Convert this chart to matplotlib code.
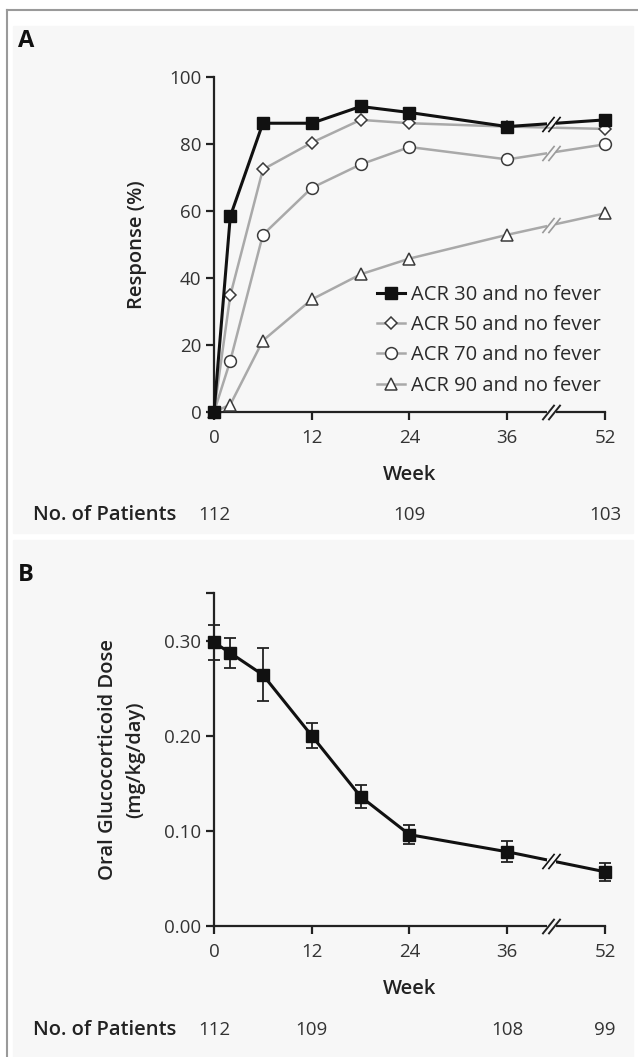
import numpy as np
import matplotlib.pyplot as plt
from matplotlib.patches import Rectangle
from matplotlib.lines import Line2D
from matplotlib.transforms import blended_transform_factory

plt.rcParams['font.family'] = ['Open Sans', 'DejaVu Sans']

########
weeks = np.array([0, 2, 6, 12, 18, 24, 36, 52])

acr30 = [0, 58.4, 86.2, 86.2, 91.2, 89.4, 85.2, 87.2]
acr50 = [0, 34.8, 72.4, 80.4, 87.2, 86.2, 85.2, 84.5]
acr70 = [0, 15.3, 52.9, 66.9, 73.9, 79.1, 75.4, 79.9]
acr90 = [0, 2.2, 21.3, 33.6, 41.1, 45.8, 52.9, 59.3]
acr_labels = ["ACR 30 and no fever", "ACR 50 and no fever",
              "ACR 70 and no fever", "ACR 90 and no fever"]

dose = [0.298, 0.287, 0.264, 0.200, 0.136, 0.096, 0.078, 0.057]
dose_err = [0.018, 0.016, 0.028, 0.013, 0.012, 0.010, 0.011, 0.0095]

tick_weeks = [0, 12, 24, 36, 52]
patients_a_weeks = [0, 24, 52]
patients_a = ["112", "109", "103"]
patients_b_weeks = [0, 12, 36, 52]
patients_b = ["112", "109", "108", "99"]

########

def pos(w):
    # axis is broken between 36 and 52: last 16 weeks drawn as 12
    w = np.asarray(w, dtype=float)
    return np.where(w <= 36, w, 36 + (w - 36) * 12 / 16)

x = pos(weeks)
x_break = 41.4
bg = "#f7f7f7"
text_col = "#222222"
label_fs = 14.5
tick_fs = 13.5


def break_mark(ax, xb, yb, color, lw=1.2, zorder=6):
    ax.plot([xb - 0.55, xb + 0.55], [yb, yb], color=bg, lw=4, zorder=zorder,
            solid_capstyle="butt", clip_on=False)
    for dx in (-0.4, 0.4):
        ax.plot([xb + dx], [yb], marker=[(-0.8, -1), (0.8, 1)], markersize=11,
                markeredgecolor=color, markeredgewidth=lw, linestyle="none",
                zorder=zorder + 1, clip_on=False)


def style_axis(ax):
    ax.set_facecolor(bg)
    ax.spines["top"].set_visible(False)
    ax.spines["right"].set_visible(False)
    for s in ("left", "bottom"):
        ax.spines[s].set_linewidth(1.6)
        ax.spines[s].set_color("#222222")
    ax.tick_params(direction="out", length=6, width=1.6, color="#222222",
                   labelsize=tick_fs, labelcolor="#333333", pad=3)
    ax.tick_params(axis="x", pad=6)
    ax.set_xticks(pos(tick_weeks))
    ax.set_xticklabels([str(t) for t in tick_weeks])
    ax.set_xlim(0, 48)


fig = plt.figure(figsize=(6.38, 10.57), dpi=100)
fig.patch.set_facecolor("white")

# panel backgrounds and page border
fig.add_artist(Rectangle((13 / 638, 1 - 533 / 1057), 620 / 638, 507 / 1057,
                         transform=fig.transFigure, color=bg, zorder=0))
fig.add_artist(Rectangle((13 / 638, 0), 620 / 638, 517 / 1057,
                         transform=fig.transFigure, color=bg, zorder=0))
fig.add_artist(Line2D([7 / 638, 1], [1 - 10 / 1057, 1 - 10 / 1057],
                      transform=fig.transFigure, color="#9a9a9a", lw=1.5))
fig.add_artist(Line2D([7 / 638, 7 / 638], [0, 1 - 10 / 1057],
                      transform=fig.transFigure, color="#9a9a9a", lw=1.5))

######## A

axA = fig.add_axes([214 / 638, 1 - 412 / 1057, 391 / 638, 335 / 1057])
style_axis(axA)
axA.set_ylim(0, 100)
axA.set_yticks([0, 20, 40, 60, 80, 100])

gray_series = [acr50, acr70, acr90]
gray_markers = ["D", "o", "^"]
gray_sizes = [6, 8.5, 8]
for vals, m, ms, lab in zip(gray_series, gray_markers, gray_sizes, acr_labels[1:]):
    axA.plot(x, vals, color="#a9a9a9", lw=1.8, marker=m, markersize=ms,
             markerfacecolor="white", markeredgecolor="#3a3a3a",
             markeredgewidth=1.1, label=lab, zorder=3, clip_on=False)
axA.plot(x, acr30, color="#111111", lw=2.2, marker="s", markersize=8,
         markerfacecolor="#111111", markeredgecolor="#111111",
         label=acr_labels[0], zorder=4, clip_on=False)

for vals, col in zip([acr30, acr70, acr90], ["#111111", "#9a9a9a", "#9a9a9a"]):
    break_mark(axA, x_break, np.interp(x_break, x, vals), col, lw=1.2)
break_mark(axA, x_break, 0, "#222222", lw=1.4)

handles, labels = axA.get_legend_handles_labels()
order = [3, 0, 1, 2]
axA.legend([handles[i] for i in order], [labels[i] for i in order],
           loc="lower right", bbox_to_anchor=(1.01, 0.025), frameon=False,
           fontsize=label_fs, handlelength=1.4, handletextpad=0.3,
           labelspacing=0.5, borderaxespad=0, labelcolor="#2a2a2a")

axA.set_ylabel("Response (%)", fontsize=label_fs, fontweight="semibold",
               color=text_col, labelpad=16)
axA.set_xlabel("Week", fontsize=label_fs, fontweight="semibold", color=text_col,
               labelpad=13)

trA = blended_transform_factory(axA.transData, axA.transAxes)
for w, n in zip(patients_a_weeks, patients_a):
    axA.text(float(pos(w)), -0.307, n, transform=trA, ha="center", va="center",
             fontsize=tick_fs, color="#333333")
fig.text(33 / 638, 1 - 515 / 1057, "No. of Patients", ha="left", va="center",
         fontsize=label_fs, fontweight="semibold", color=text_col)
fig.text(18 / 638, 1 - 41 / 1057, "A", ha="left", va="center",
         fontsize=17, fontweight="bold", color="#111111")

######## B

axB = fig.add_axes([214 / 638, 1 - 926 / 1057, 391 / 638, 333 / 1057])
style_axis(axB)
axB.set_ylim(0, 0.35)
axB.set_yticks([0, 0.10, 0.20, 0.30, 0.35])
axB.set_yticklabels(["0.00", "0.10", "0.20", "0.30", ""])

axB.errorbar(x, dose, yerr=dose_err, color="#111111", lw=2.2, marker="s",
             markersize=8, ecolor="#222222", elinewidth=1.3, capsize=4,
             capthick=1.3, zorder=4, clip_on=False)
break_mark(axB, x_break, np.interp(x_break, x, dose), "#111111", lw=1.2)
break_mark(axB, x_break, 0, "#222222", lw=1.4)

axB.set_ylabel("Oral Glucocorticoid Dose\n(mg/kg/day)", fontsize=label_fs,
               fontweight="semibold", color=text_col, labelpad=14,
               linespacing=1.45)
axB.set_xlabel("Week", fontsize=label_fs, fontweight="semibold", color=text_col,
               labelpad=13)

trB = blended_transform_factory(axB.transData, axB.transAxes)
for w, n in zip(patients_b_weeks, patients_b):
    axB.text(float(pos(w)), -0.312, n, transform=trB, ha="center", va="center",
             fontsize=tick_fs, color="#333333")
fig.text(33 / 638, 1 - 1030 / 1057, "No. of Patients", ha="left", va="center",
         fontsize=label_fs, fontweight="semibold", color=text_col)
fig.text(18 / 638, 1 - 575 / 1057, "B", ha="left", va="center",
         fontsize=17, fontweight="bold", color="#111111")

plt.savefig("out.png", dpi=100, facecolor=fig.get_facecolor())
